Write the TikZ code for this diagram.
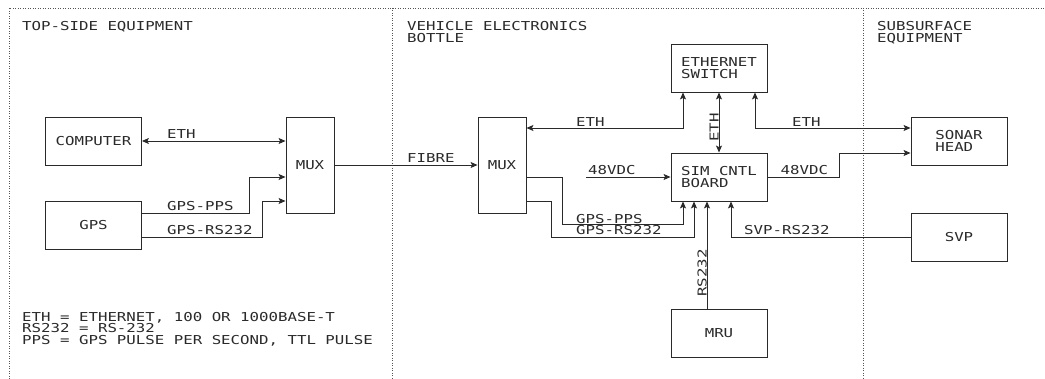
\documentclass[tikz,border=0pt]{standalone}
\usepackage{fontspec}
\newfontfamily\dgm{DejaVu Sans Mono}[FakeStretch=1.28]
\usetikzlibrary{arrows.meta}
\definecolor{ink}{HTML}{2A2A2A}
\definecolor{dotc}{HTML}{555555}
\tikzset{
  tip/.tip={Stealth[length=7pt,width=6pt,inset=1.5pt]},
  box/.style={draw=ink, line width=0.9pt, minimum width=96pt, minimum height=48pt, inner sep=0pt, align=left, text=ink},
  tall/.style={box, minimum width=48pt, minimum height=96pt},
  wire/.style={draw=ink, line width=0.9pt},
  arr/.style={wire, -tip},
  barr/.style={wire, tip-tip},
  lbl/.style={anchor=base west, inner sep=0pt, text=ink},
  divider/.style={draw=dotc, line width=0.9pt, dash pattern=on 0.9pt off 1.6pt},
  every node/.style={font=\dgm\fontsize{12.3}{11.7}\selectfont}
}
\begin{document}
\begin{tikzpicture}[x=1pt,y=-1pt]
\useasboundingbox (0,0) rectangle (1045,379);
% dotted frame
\draw[divider] (9,379) -- (9,8) -- (1045,8);
\draw[divider] (392,8) -- (392,379);
\draw[divider] (863,8) -- (863,379);
% titles
\node[lbl] (t1) at (22,30.5) {TOP-SIDE EQUIPMENT};
\node[lbl] (t2) at (407,30.5) {VEHICLE ELECTRONICS};
\node[lbl] (t2b) at (407,42.2) {BOTTLE};
\node[lbl] (t3) at (877,30.5) {SUBSURFACE};
\node[lbl] (t3b) at (877,42.2) {EQUIPMENT};
% boxes
\node[box] (comp) at (93.5,141) {COMPUTER};
\node[box] (gps) at (93.5,225) {GPS};
\node[tall] (mux1) at (310,165) {MUX};
\node[tall] (mux2) at (502,165) {MUX};
\node[box] (sw) at (719,68) {ETHERNET\\SWITCH};
\node[box] (sim) at (719,177) {SIM CNTL\\BOARD};
\node[box] (mru) at (719,333) {MRU};
\node[box] (sonar) at (959,141) {SONAR\\HEAD};
\node[box] (svp) at (959,237) {SVP};
% top-side connectors
\draw[barr] (comp.east) -- (mux1.west|-comp.east);
\node[lbl] (l1) at (167,138.5) {ETH};
\draw[arr] ([yshift=12pt]gps.east) -| (249,177) -- (mux1.west|-0,177);
\node[lbl] (l2) at (167,210.5) {GPS-PPS};
\draw[arr] ([yshift=-12pt]gps.east) -| (262,201) -- (mux1.west|-0,201);
\node[lbl] (l3) at (167,235) {GPS-RS232};
% fibre
\draw[arr] (mux1.east) -- (mux2.west);
\node[lbl] (l4) at (407,163) {FIBRE};
% ethernet
\draw[barr] ([xshift=-36pt]sw.south) |- (mux2.east|-0,128);
\node[lbl] (l5) at (576,126.5) {ETH};
\draw[barr] (sw.south) -- (sim.north);
\node[lbl, rotate=90] (l6) at (718.5,142) {ETH};
\draw[barr] ([xshift=36pt]sw.south) |- (sonar.west|-0,128);
\node[lbl] (l7) at (792,126.5) {ETH};
% power
\coordinate (p48) at (586,177);
\draw[arr] (p48) -- (sim.west);
\node[lbl] (l8) at (588,175) {48VDC};
\draw[arr] (sim.east) -| (839,153) -- (sonar.west|-0,153);
\node[lbl] (l9) at (780.5,175) {48VDC};
% GPS to SIM
\draw[arr] ([yshift=-12pt]mux2.east) -| (562,224) -| ([xshift=-36pt]sim.south);
\node[lbl] (l10) at (576,223.3) {GPS-PPS};
\draw[arr] ([yshift=-36pt]mux2.east) -| (551,237) -| ([xshift=-25pt]sim.south);
\node[lbl] (l11) at (576,235) {GPS-RS232};
% MRU
\draw[arr] ([xshift=-12pt]mru.north) -- ([xshift=-12pt]sim.south);
\node[lbl, rotate=90] (l12) at (706.5,296.7) {RS232};
% SVP
\draw[arr] (svp.west) -| ([xshift=12pt]sim.south);
\node[lbl] (l13) at (744,235) {SVP-RS232};
% legend
\node[lbl] (g1) at (22,321.5) {ETH = ETHERNET, 100 OR 1000BASE-T};
\node[lbl] (g2) at (22,333) {RS232 = RS-232};
\node[lbl] (g3) at (22,344.5) {PPS = GPS PULSE PER SECOND, TTL PULSE};
\end{tikzpicture}
\end{document}
